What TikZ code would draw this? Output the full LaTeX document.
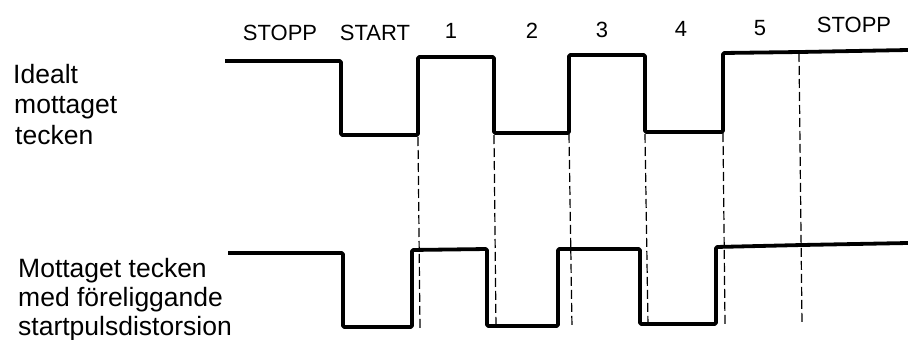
\documentclass[tikz,border=0pt]{standalone}
\usepackage{fontspec}
\setmainfont{Liberation Sans}
\begin{document}
\begin{tikzpicture}[x=1pt,y=-1pt,
  wave/.style={line width=3.8pt, line join=round, rounded corners=1.2pt},
  guide/.style={line width=1.2pt, dash pattern=on 9pt off 4pt},
  toplbl/.style={font=\fontsize{22}{26}\selectfont, anchor=base, inner sep=0pt},
  sidelbl/.style={font=\fontsize{26.5}{30}\selectfont, anchor=base west, inner sep=0pt}]
\useasboundingbox (0,0) rectangle (908,340);
% top labels
\node[toplbl] (l1) at (280,40) {STOPP};
\node[toplbl] (l2) at (375,40) {START};
\node[toplbl] (l3) at (451,38) {1};
\node[toplbl] (l4) at (532,38) {2};
\node[toplbl] (l5) at (602,37) {3};
\node[toplbl] (l6) at (681,36) {4};
\node[toplbl] (l7) at (760,35) {5};
\node[toplbl] (l8) at (854,32) {STOPP};
% side labels
\node[sidelbl] (a1) at (13,83) {Idealt};
\node[sidelbl] (a2) at (14,113) {mottaget};
\node[sidelbl] (a3) at (15,144) {tecken};
\node[sidelbl] (b1) at (18,277) {Mottaget tecken};
\node[sidelbl] (b2) at (18,306) {med föreliggande};
\node[sidelbl] (b3) at (18,335) {startpulsdistorsion};
% guide lines
\draw[guide] (418,137) -- (420,329);
\draw[guide] (494,135) -- (496,328);
\draw[guide] (569,134) -- (572,328);
\draw[guide] (645,134) -- (648,326);
\draw[guide] (723,133) -- (725,324);
\draw[guide] (799,53) -- (802,324);
% ideal waveform
\draw[wave] (225,61) -- (341,61) -- (341,135) -- (418,135) -- (418,57)
  -- (494,57) -- (494,133) -- (569,133) -- (569,55) -- (645,55) -- (645,132)
  -- (723,132) -- (723,53) -- (800,52) -- (908,50);
% distorted waveform
\draw[wave] (228,253) -- (343,253) -- (343,327) -- (412,327) -- (412,250)
  -- (487,249) -- (487,326) -- (558,326) -- (558,249) -- (640,249) -- (640,324)
  -- (716,324) -- (716,247) -- (802,245) -- (908,243);
\end{tikzpicture}
\end{document}
